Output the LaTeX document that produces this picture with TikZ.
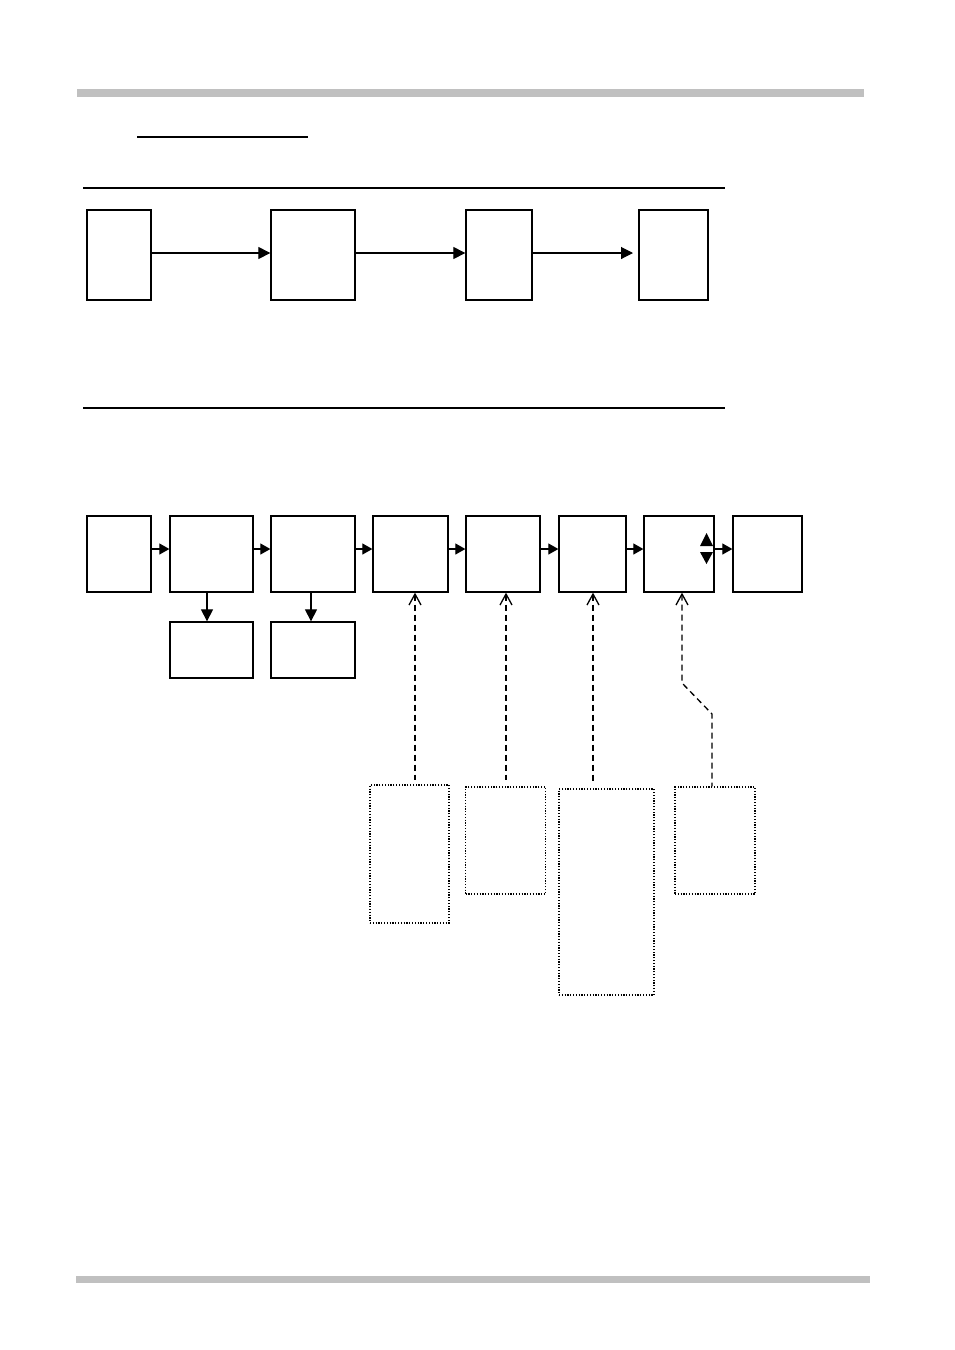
\documentclass[tikz,border=0pt]{standalone}
\usetikzlibrary{arrows.meta}
\definecolor{bargray}{HTML}{C0C0C0}
\begin{document}
\begin{tikzpicture}[x=1pt,y=-1pt,
  box/.style={draw,line width=1.3pt,inner sep=0pt},
  dbox/.style={draw,line width=1.4pt,dash pattern=on 1.2pt off 1.6pt,inner sep=0pt},
  arr/.style={line width=1.1pt,-{Triangle[length=12pt,width=12pt]}},
  sarr/.style={line width=1.1pt,-{Triangle[length=10pt,width=11pt]}},
  darr/.style={line width=1.3pt,dash pattern=on 6pt off 4pt,{Straight Barb[length=11pt,width=12pt,line width=1.3pt]}-},
  rule/.style={line width=1.1pt}]
\useasboundingbox (0,0) rectangle (955,1350);
% grey bars
\fill[bargray] (77,89) rectangle (864,97);
\fill[bargray] (76,1276) rectangle (870,1283);
% underline and rules
\draw[line width=2.2pt] (137,137) -- (308,137);
\draw[rule] (83,188) -- (725,188);
\draw[rule] (83,408) -- (725,408);
% top row
\node[box,minimum width=64pt,minimum height=90pt] (t1) at (119,255) {};
\node[box,minimum width=84pt,minimum height=90pt] (t2) at (313,255) {};
\node[box,minimum width=66pt,minimum height=90pt] (t3) at (499,255) {};
\node[box,minimum width=69pt,minimum height=90pt] (t4) at (673.5,255) {};
\draw[arr] (t1.east |- 0,253) -- (t2.west |- 0,253);
\draw[arr] (t2.east |- 0,253) -- (t3.west |- 0,253);
\coordinate (t4a) at (633,253);
\draw[arr] (t3.east |- 0,253) -- (t4a);
% bottom row
\node[box,minimum width=64pt,minimum height=76pt] (b1) at (119,554) {};
\node[box,minimum width=83pt,minimum height=76pt] (b2) at (211.5,554) {};
\node[box,minimum width=84pt,minimum height=76pt] (b3) at (313,554) {};
\node[box,minimum width=75pt,minimum height=76pt] (b4) at (410.5,554) {};
\node[box,minimum width=74pt,minimum height=76pt] (b5) at (503,554) {};
\node[box,minimum width=67pt,minimum height=76pt] (b6) at (592.5,554) {};
\node[box,minimum width=70pt,minimum height=76pt] (b7) at (679,554) {};
\node[box,minimum width=69pt,minimum height=76pt] (b8) at (767.5,554) {};
\foreach \a/\b in {b1/b2,b2/b3,b3/b4,b4/b5,b5/b6,b6/b7,b7/b8}
  \draw[sarr] (\a.east |- 0,549) -- (\b.west |- 0,549);
% sub boxes
\node[box,minimum width=83pt,minimum height=56pt] (s2) at (211.5,650) {};
\node[box,minimum width=84pt,minimum height=56pt] (s3) at (313,650) {};
\draw[arr] (b2.south -| 207,0) -- (s2.north -| 207,0);
\draw[arr] (b3.south -| 311,0) -- (s3.north -| 311,0);
% up/down triangles in b7
\fill (700,546) -- (713,546) -- (706.5,533) -- cycle;
\fill (700,552) -- (713,552) -- (706.5,564) -- cycle;
% dotted boxes
\node[dbox,minimum width=79pt,minimum height=138pt] (d1) at (409.5,854) {};
\node[dbox,minimum width=80pt,minimum height=107pt] (d2) at (505.5,840.5) {};
\node[dbox,minimum width=95pt,minimum height=206pt] (d3) at (606.5,892) {};
\node[dbox,minimum width=80pt,minimum height=107pt] (d4) at (715,840.5) {};
% dashed connectors
\coordinate (c1) at (415,780);
\coordinate (c2) at (506,780);
\coordinate (c3) at (593,783);
\coordinate (k1) at (682,683);
\coordinate (k2) at (712,714);
\draw[darr] (b4.south -| c1) -- (c1);
\draw[darr] (b5.south -| c2) -- (c2);
\draw[darr] (b6.south -| c3) -- (c3);
\draw[darr] (b7.south -| k1) -- (k1) -- (k2) -- (d4.north -| k2);
\end{tikzpicture}
\end{document}
